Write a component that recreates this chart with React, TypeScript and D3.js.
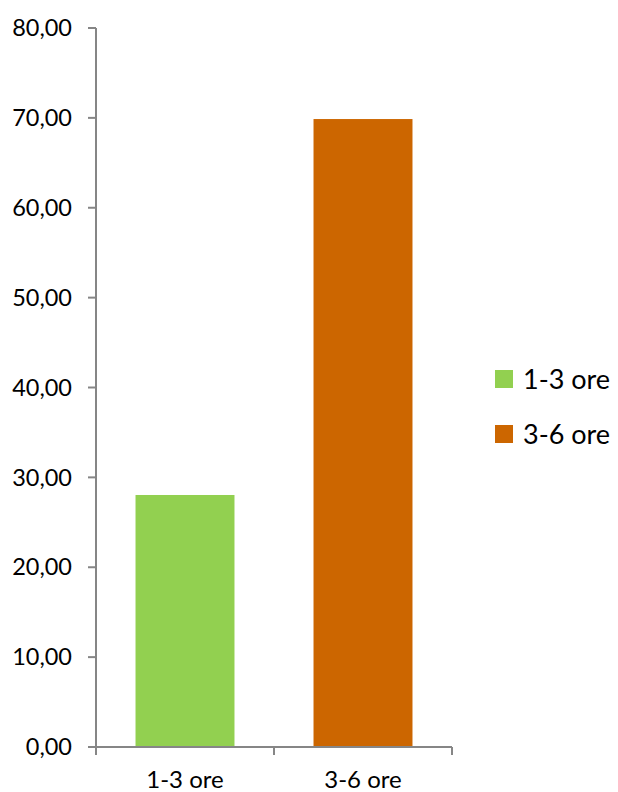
import React from "react";
import * as d3 from "d3";

const categories = ["1-3 ore", "3-6 ore"];
const values = [28.04, 69.87];
const colors = ["#92D050", "#CC6600"];
const yTicks = [0, 10, 20, 30, 40, 50, 60, 70, 80];

export default function App() {
  const W = 618, H = 792;
  const x0 = 96, x1 = 452, yTop = 28, yBot = 747;
  const x = d3.scaleBand().domain(categories).range([x0, x1]).paddingInner(0.444).paddingOuter(0.222);
  const y = d3.scaleLinear().domain([0, 80]).range([yBot, yTop]);
  const fmt = (v: number) => v.toFixed(2).replace(".", ",");
  const font = "Lato, 'Open Sans', sans-serif";
  const axisColor = "#868686";
  const catEdges = [x0, (x0 + x1) / 2, x1];
  return (
    <svg width={W} height={H} style={{ position: "absolute", left: 0, top: 0 }} fontFamily={font}>
      <rect width={W} height={H} fill="#fff" />
      {categories.map((c, i) => (
        <rect key={c} x={x(c)} y={y(values[i])} width={x.bandwidth()} height={y(0) - y(values[i])} fill={colors[i]} />
      ))}
      <line x1={x0} x2={x0} y1={yTop} y2={yBot} stroke={axisColor} strokeWidth={2} />
      <line x1={x0} x2={x1} y1={yBot} y2={yBot} stroke={axisColor} strokeWidth={2} />
      {yTicks.map((t) => (
        <g key={t}>
          <line x1={88} x2={x0} y1={y(t)} y2={y(t)} stroke={axisColor} strokeWidth={2} />
          <text x={72} y={y(t)} dy="0.35em" textAnchor="end" fontSize={23.5} fill="#000">{fmt(t)}</text>
        </g>
      ))}
      {catEdges.map((cx, i) => (
        <line key={i} x1={cx} x2={cx} y1={yBot} y2={yBot + 8} stroke={axisColor} strokeWidth={2} />
      ))}
      {categories.map((c) => (
        <text key={c} x={(x(c) as number) + x.bandwidth() / 2} y={788} textAnchor="middle" fontSize={24} fill="#000">{c}</text>
      ))}
      {categories.map((c, i) => (
        <g key={c} transform={`translate(495, ${370 + i * 55})`}>
          <rect width={18} height={18} fill={colors[i]} />
          <text x={28} y={9} dy="0.36em" fontSize={27} fill="#000">{c}</text>
        </g>
      ))}
    </svg>
  );
}
